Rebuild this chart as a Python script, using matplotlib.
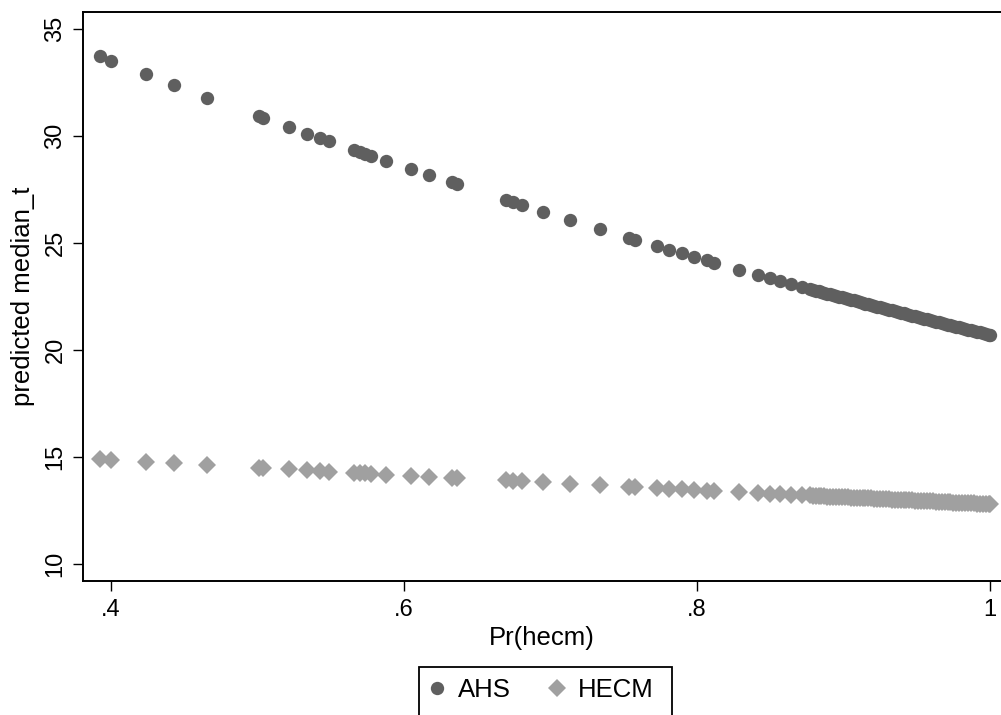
import matplotlib
matplotlib.use("Agg")
import matplotlib.pyplot as plt
from matplotlib.lines import Line2D
from matplotlib.patches import Rectangle

plt.rcParams['font.family'] = ['Liberation Sans', 'DejaVu Sans']

# Pr(hecm) values (shared by both series)
pr_hecm = [0.3927, 0.4002, 0.4239, 0.4432, 0.4657, 0.5012, 0.5041, 0.5217, 0.5337, 0.5428,
           0.5492, 0.5660, 0.5701, 0.5735, 0.5776, 0.5881, 0.6049, 0.6170, 0.6327, 0.6361,
           0.6695, 0.6742, 0.6807, 0.6951, 0.7136, 0.7342, 0.7539, 0.7580, 0.7731, 0.7808,
           0.7899, 0.7983, 0.8067, 0.8120, 0.8287, 0.8415, 0.8499, 0.8570, 0.8642, 0.8714,
           0.877, 0.879, 0.881, 0.883, 0.885, 0.887, 0.889, 0.891, 0.893, 0.895,
           0.897, 0.899, 0.901, 0.903, 0.905, 0.907, 0.909, 0.911, 0.913, 0.915,
           0.917, 0.919, 0.921, 0.923, 0.925, 0.927, 0.929, 0.931, 0.933, 0.935,
           0.937, 0.939, 0.941, 0.943, 0.945, 0.947, 0.949, 0.951, 0.953, 0.955,
           0.957, 0.959, 0.961, 0.963, 0.965, 0.967, 0.969, 0.971, 0.973, 0.975,
           0.977, 0.979, 0.981, 0.983, 0.985, 0.987, 0.989, 0.991, 0.993, 0.995,
           0.997, 0.999, 1.0]

ahs = [33.74, 33.52, 32.90, 32.40, 31.79, 30.93, 30.83, 30.41, 30.11, 29.90,
       29.76, 29.34, 29.24, 29.16, 29.06, 28.83, 28.44, 28.19, 27.83, 27.75,
       27.00, 26.90, 26.76, 26.45, 26.06, 25.63, 25.23, 25.14, 24.84, 24.69,
       24.51, 24.34, 24.18, 24.07, 23.75, 23.51, 23.35, 23.22, 23.08, 22.95,
       22.85, 22.81, 22.77, 22.74, 22.70, 22.67, 22.63, 22.59, 22.55, 22.52,
       22.48, 22.45, 22.41, 22.38, 22.34, 22.31, 22.27, 22.23, 22.19, 22.16,
       22.12, 22.09, 22.05, 22.02, 21.98, 21.95, 21.91, 21.88, 21.84, 21.81,
       21.77, 21.74, 21.70, 21.67, 21.63, 21.60, 21.56, 21.53, 21.49, 21.46,
       21.42, 21.39, 21.35, 21.32, 21.28, 21.25, 21.22, 21.18, 21.15, 21.11,
       21.08, 21.05, 21.01, 20.98, 20.95, 20.91, 20.88, 20.85, 20.81, 20.78,
       20.74, 20.71, 20.69]

hecm = [14.88, 14.85, 14.76, 14.69, 14.61, 14.48, 14.47, 14.41, 14.36, 14.33,
        14.31, 14.25, 14.23, 14.22, 14.21, 14.17, 14.11, 14.07, 14.01, 14.00,
        13.89, 13.87, 13.85, 13.80, 13.73, 13.66, 13.60, 13.58, 13.53, 13.51,
        13.47, 13.45, 13.42, 13.40, 13.34, 13.30, 13.27, 13.25, 13.23, 13.20,
        13.19, 13.18, 13.17, 13.16, 13.16, 13.15, 13.14, 13.14, 13.13, 13.12,
        13.12, 13.11, 13.11, 13.10, 13.09, 13.09, 13.08, 13.07, 13.07, 13.06,
        13.05, 13.05, 13.04, 13.03, 13.03, 13.02, 13.01, 13.01, 13.00, 12.99,
        12.99, 12.98, 12.98, 12.97, 12.96, 12.96, 12.95, 12.94, 12.94, 12.93,
        12.92, 12.92, 12.91, 12.90, 12.90, 12.89, 12.88, 12.88, 12.87, 12.86,
        12.86, 12.85, 12.85, 12.84, 12.83, 12.83, 12.82, 12.81, 12.81, 12.80,
        12.79, 12.79, 12.78]

x_ticks = [0.4, 0.6, 0.8, 1.0]
x_tick_labels = ['.4', '.6', '.8', '1']
y_ticks = [10, 15, 20, 25, 30, 35]
y_tick_labels = ['10', '15', '20', '25', '30', '35']
series_labels = ['AHS', 'HECM']

c_ahs = '#5f5f5f'
c_hecm = '#a0a0a0'
FS_TICK = 17
FS_TEXT = 18.5

fig = plt.figure(figsize=(10.01, 7.15), dpi=100)
ax = fig.add_axes([83/1001, (715-581)/715, (1001-83)/1001, (581-12)/715])

ax.plot(pr_hecm, ahs, linestyle='none', marker='o', markersize=9.6,
        markerfacecolor=c_ahs, markeredgewidth=0, clip_on=False)
ax.plot(pr_hecm, hecm, linestyle='none', marker='D', markersize=9.3,
        markerfacecolor=c_hecm, markeredgewidth=0, clip_on=False)

ax.set_xlim(0.3811, 1.0075)
ax.set_ylim(9.191, 35.795)
ax.set_xticks(x_ticks)
ax.set_xticklabels(x_tick_labels, fontsize=FS_TICK)
ax.set_yticks(y_ticks)
ax.set_yticklabels(y_tick_labels, fontsize=FS_TICK, rotation=90, va='center')

for s in ['left', 'top', 'bottom']:
    ax.spines[s].set_linewidth(1.4)
    ax.spines[s].set_color('black')
ax.spines['right'].set_visible(False)
ax.tick_params(axis='both', direction='out', length=7.2, width=1.0)
ax.tick_params(axis='x', pad=6)
ax.tick_params(axis='y', pad=4.7)

ax.set_xlabel('Pr(hecm)', fontsize=FS_TEXT, labelpad=3)
ax.set_ylabel('predicted median_t', fontsize=FS_TEXT, labelpad=7)

handles = [Line2D([], [], linestyle='none', marker='o', markersize=9.6,
                  markerfacecolor=c_ahs, markeredgewidth=0),
           Line2D([], [], linestyle='none', marker='D', markersize=9.3,
                  markerfacecolor=c_hecm, markeredgewidth=0)]
fig.legend(handles, series_labels, loc='upper left',
           bbox_to_anchor=(419/1001, (715-670.3)/715), ncol=2, frameon=False,
           fontsize=FS_TEXT, borderpad=0.30, handlelength=0.8, handletextpad=0.42,
           columnspacing=1.40, borderaxespad=0)
fig.patches.append(Rectangle((419/1001, -0.05), (672-419)/1001, 0.05 + (715-667.3)/715,
                             transform=fig.transFigure, fill=False,
                             edgecolor='black', linewidth=1.3, clip_on=False))

fig.savefig('out.png', dpi=100)
